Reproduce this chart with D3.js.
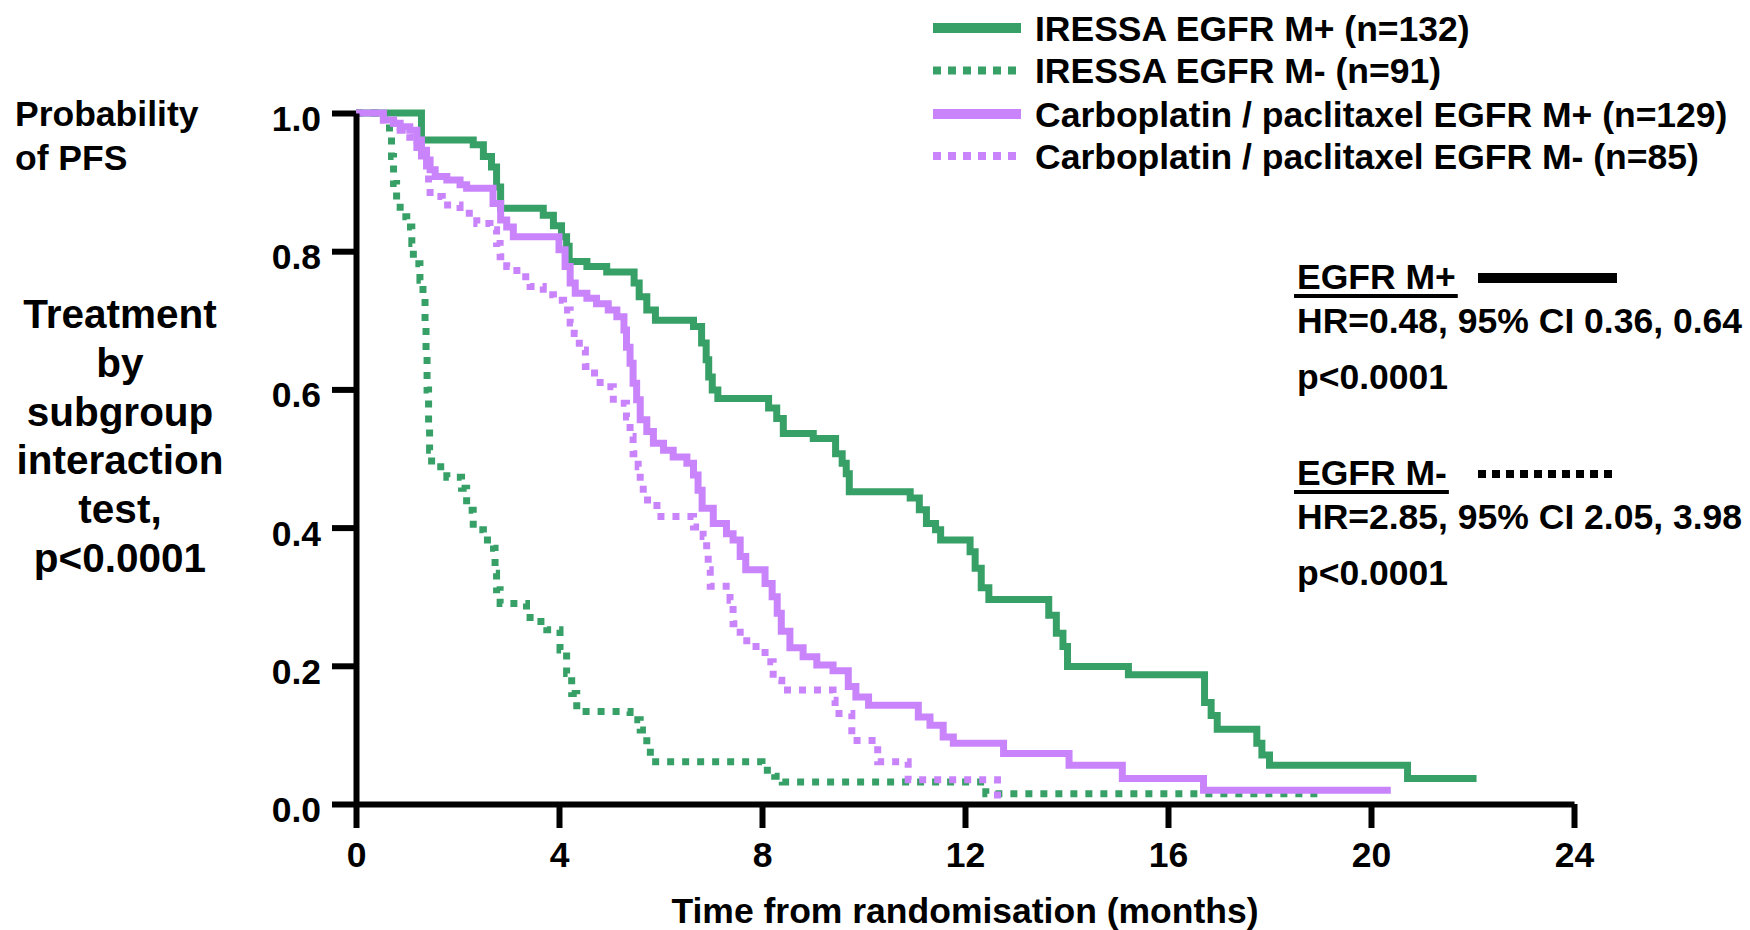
<!DOCTYPE html>
<html>
<head>
<meta charset="utf-8">
<script src="https://cdn.jsdelivr.net/npm/d3@7"></script>
<style>
  body { margin: 0; background: #fff; }
  svg text { font-family: "Liberation Sans", Arial, sans-serif; font-weight: bold; fill: #000; }
</style>
</head>
<body>
<svg id="chart"></svg>
<script>
// Kaplan-Meier steps: [months, probability of PFS]
// the last pair of each series is the end of follow-up
const iressaPos = [
  [0, 1.0], [1.29, 0.961], [2.31, 0.954], [2.51, 0.937], [2.67, 0.922], [2.77, 0.893],
  [2.85, 0.862], [3.69, 0.852], [3.89, 0.837], [4.05, 0.821], [4.15, 0.807], [4.2, 0.785],
  [4.55, 0.778], [4.94, 0.77], [5.48, 0.754], [5.58, 0.734], [5.73, 0.715], [5.9, 0.7],
  [6.65, 0.691], [6.81, 0.667], [6.9, 0.643], [6.95, 0.618], [7.02, 0.599], [7.13, 0.587],
  [8.13, 0.573], [8.29, 0.558], [8.42, 0.536], [9.01, 0.529], [9.45, 0.507], [9.58, 0.493],
  [9.66, 0.478], [9.72, 0.452], [10.92, 0.443], [11.1, 0.426], [11.24, 0.406], [11.42, 0.397],
  [11.52, 0.382], [12.1, 0.365], [12.2, 0.341], [12.32, 0.313], [12.47, 0.296], [13.65, 0.273],
  [13.8, 0.247], [13.93, 0.228], [14.02, 0.199], [15.22, 0.187], [16.72, 0.147], [16.85, 0.128],
  [16.97, 0.108], [17.75, 0.088], [17.85, 0.071], [18.0, 0.056], [20.72, 0.037], [22.08, 0.037]
];
const iressaNeg = [
  [0, 1.0], [0.55, 0.985], [0.66, 0.971], [0.7, 0.937], [0.74, 0.898], [0.8, 0.874],
  [0.87, 0.85], [1.0, 0.835], [1.1, 0.811], [1.13, 0.782], [1.26, 0.758], [1.32, 0.734],
  [1.36, 0.695], [1.38, 0.647], [1.4, 0.599], [1.43, 0.551], [1.45, 0.512], [1.49, 0.488],
  [1.79, 0.473], [2.08, 0.457], [2.18, 0.425], [2.31, 0.397], [2.51, 0.382], [2.71, 0.37],
  [2.74, 0.334], [2.77, 0.31], [2.84, 0.29], [3.36, 0.278], [3.43, 0.264], [3.76, 0.252],
  [4.02, 0.223], [4.15, 0.189], [4.25, 0.16], [4.35, 0.134], [5.4, 0.122], [5.6, 0.107],
  [5.73, 0.083], [5.8, 0.061], [8.0, 0.049], [8.25, 0.04], [8.4, 0.032], [12.41, 0.015],
  [19.03, 0.015]
];
const carboPos = [
  [0, 1.0], [0.54, 0.99], [0.74, 0.985], [0.87, 0.98], [1.06, 0.975], [1.2, 0.961],
  [1.29, 0.946], [1.39, 0.932], [1.46, 0.918], [1.56, 0.908], [1.79, 0.903], [2.05, 0.896],
  [2.18, 0.891], [2.7, 0.869], [2.85, 0.845], [2.97, 0.835], [3.1, 0.821], [4.0, 0.802],
  [4.12, 0.778], [4.22, 0.754], [4.32, 0.739], [4.55, 0.732], [4.74, 0.724], [4.97, 0.715],
  [5.14, 0.705], [5.28, 0.686], [5.33, 0.661], [5.4, 0.638], [5.46, 0.609], [5.53, 0.585],
  [5.6, 0.556], [5.73, 0.539], [5.86, 0.522], [6.06, 0.512], [6.25, 0.502], [6.52, 0.493],
  [6.65, 0.476], [6.74, 0.454], [6.82, 0.428], [7.04, 0.406], [7.3, 0.391], [7.43, 0.382],
  [7.57, 0.358], [7.68, 0.339], [8.06, 0.319], [8.2, 0.3], [8.3, 0.276], [8.38, 0.25],
  [8.55, 0.226], [8.81, 0.213], [9.08, 0.201], [9.4, 0.193], [9.7, 0.17], [9.85, 0.155],
  [10.1, 0.143], [11.08, 0.126], [11.31, 0.114], [11.57, 0.097], [11.77, 0.088], [12.76, 0.073],
  [14.05, 0.056], [15.1, 0.037], [16.7, 0.02], [20.39, 0.02]
];
const carboNeg = [
  [0, 1.0], [0.54, 0.99], [0.74, 0.985], [0.87, 0.975], [1.06, 0.965], [1.2, 0.95],
  [1.29, 0.93], [1.39, 0.91], [1.43, 0.898], [1.46, 0.879], [1.7, 0.867], [2.05, 0.855],
  [2.38, 0.84], [2.64, 0.831], [2.77, 0.811], [2.84, 0.792], [2.97, 0.778], [3.17, 0.763],
  [3.43, 0.749], [3.69, 0.737], [3.89, 0.729], [4.09, 0.715], [4.22, 0.696], [4.3, 0.681],
  [4.4, 0.657], [4.52, 0.633], [4.7, 0.618], [4.81, 0.604], [5.07, 0.58], [5.33, 0.56],
  [5.4, 0.532], [5.46, 0.507], [5.56, 0.488], [5.6, 0.464], [5.66, 0.44], [5.93, 0.416],
  [6.65, 0.401], [6.84, 0.387], [6.91, 0.368], [6.94, 0.339], [6.98, 0.315], [7.37, 0.295],
  [7.43, 0.261], [7.57, 0.242], [7.7, 0.228], [8.06, 0.206], [8.22, 0.179], [8.39, 0.165],
  [9.4, 0.15], [9.44, 0.131], [9.77, 0.092], [10.28, 0.061], [10.88, 0.035], [12.64, 0.013],
  [12.75, 0.013]
];

const xTicks = [0, 4, 8, 12, 16, 20, 24];
const yTicks = [0, 0.2, 0.4, 0.6, 0.8, 1.0];

const legendLabels = [
  "IRESSA EGFR M+ (n=132)",
  "IRESSA EGFR M- (n=91)",
  "Carboplatin / paclitaxel EGFR M+ (n=129)",
  "Carboplatin / paclitaxel EGFR M- (n=85)"
];
const yTitleLines = ["Probability", "of PFS"];
const interactionLines = ["Treatment", "by", "subgroup", "interaction", "test,", "p<0.0001"];
const hrBlocks = [
  { head: "EGFR M+", hr: "HR=0.48, 95% CI 0.36, 0.64", p: "p<0.0001" },
  { head: "EGFR M-", hr: "HR=2.85, 95% CI 2.05, 3.98", p: "p<0.0001" }
];
const xTitle = "Time from randomisation (months)";

const green = "#37a067";
const purple = "#c984fb";
const fontSize = 35.5;

const width = 1750;
const height = 930;

const svg = d3
  .select("#chart")
  .attr("width", width)
  .attr("height", height)
  .style("background", "#fff");

// Scales
const xScale = d3.scaleLinear().domain([0, 24]).range([356, 1574]);
const yScale = d3.scaleLinear().domain([0, 1]).range([804, 113]);

// Curves (dotted first so the solid ones sit on top)
const series = [
  { data: iressaNeg, color: green, dash: "7 8" },
  { data: carboNeg, color: purple, dash: "7 8" },
  { data: iressaPos, color: green, dash: null },
  { data: carboPos, color: purple, dash: null }
];

const line = d3
  .line()
  .x((d) => xScale(d[0]))
  .y((d) => yScale(d[1]))
  .curve(d3.curveStepAfter);

svg
  .append("g")
  .selectAll("path")
  .data(series)
  .enter()
  .append("path")
  .attr("d", (d) => line(d.data))
  .attr("fill", "none")
  .attr("stroke", (d) => d.color)
  .attr("stroke-width", 7)
  .attr("stroke-linejoin", "miter")
  .attr("stroke-dasharray", (d) => d.dash);

// Axes
const xAxis = d3
  .axisBottom(xScale)
  .tickValues(xTicks)
  .tickSize(24)
  .tickSizeOuter(0)
  .tickPadding(14)
  .tickFormat(d3.format("d"));

const yAxis = d3
  .axisLeft(yScale)
  .tickValues(yTicks)
  .tickSize(24)
  .tickSizeOuter(0)
  .tickPadding(11)
  .tickFormat(d3.format(".1f"));

const gx = svg
  .append("g")
  .attr("transform", `translate(0, ${yScale(0)})`)
  .call(xAxis);

const gy = svg
  .append("g")
  .attr("transform", `translate(${xScale(0)}, 0)`)
  .call(yAxis);

[gx, gy].forEach((g) => {
  g.attr("font-family", null).attr("font-size", fontSize);
  g.selectAll("path, line").attr("stroke", "#000").attr("stroke-width", 6);
  g.selectAll("text").attr("fill", "#000");
});
gy.selectAll("text").attr("dy", "0.49em");

// Axis titles
svg
  .append("text")
  .attr("x", (xScale(0) + xScale(24)) / 2)
  .attr("y", 923)
  .attr("text-anchor", "middle")
  .style("font-size", fontSize + "px")
  .text(xTitle);

svg
  .selectAll(".ytitle")
  .data(yTitleLines)
  .enter()
  .append("text")
  .attr("class", "ytitle")
  .attr("x", 15)
  .attr("y", (d, i) => 126 + i * 44)
  .style("font-size", fontSize + "px")
  .text((d) => d);

svg
  .selectAll(".interaction")
  .data(interactionLines)
  .enter()
  .append("text")
  .attr("class", "interaction")
  .attr("x", 120)
  .attr("y", (d, i) => 328 + i * 48.8)
  .attr("text-anchor", "middle")
  .style("font-size", "40.5px")
  .text((d) => d);

// Legend
const legendY = [28, 70.5, 114, 156];
const legend = svg
  .append("g")
  .selectAll("g")
  .data(legendLabels)
  .enter()
  .append("g")
  .attr("transform", (d, i) => `translate(0, ${legendY[i]})`);

legend
  .append("line")
  .attr("x1", 933)
  .attr("x2", 1021)
  .attr("stroke", (d, i) => (i < 2 ? green : purple))
  .attr("stroke-width", (d, i) => (i % 2 === 0 ? 10 : 8))
  .attr("stroke-dasharray", (d, i) => (i % 2 === 0 ? null : "8 7"));

legend
  .append("text")
  .attr("x", 1035)
  .attr("y", 12.5)
  .style("font-size", fontSize + "px")
  .text((d) => d);

// Hazard ratio annotations
const hrTop = [289, 485];
const hr = svg
  .append("g")
  .selectAll("g")
  .data(hrBlocks)
  .enter()
  .append("g")
  .attr("transform", (d, i) => `translate(1297, ${hrTop[i]})`);

hr.append("text")
  .attr("class", "head")
  .style("font-size", fontSize + "px")
  .text((d) => d.head);

hr.each(function () {
  const g = d3.select(this);
  const w = g.select("text.head").node().getComputedTextLength();
  g.append("line")
    .attr("x1", -3)
    .attr("x2", w + 2)
    .attr("y1", 7)
    .attr("y2", 7)
    .attr("stroke", "#000")
    .attr("stroke-width", 4);
});

hr.append("line")
  .attr("x1", 181)
  .attr("x2", 320)
  .attr("y1", -11)
  .attr("y2", -11)
  .attr("stroke", "#000")
  .attr("stroke-width", (d, i) => (i === 0 ? 10 : 8))
  .attr("stroke-dasharray", (d, i) => (i === 0 ? null : "8 6"));

hr.append("text")
  .attr("y", 44)
  .style("font-size", fontSize + "px")
  .text((d) => d.hr);

hr.append("text")
  .attr("y", 100)
  .style("font-size", fontSize + "px")
  .text((d) => d.p);
</script>
</body>
</html>
